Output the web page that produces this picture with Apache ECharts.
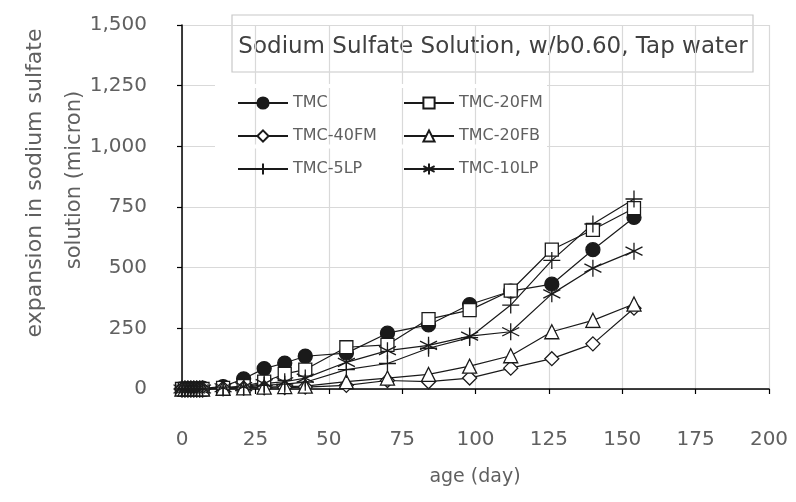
<!DOCTYPE html>
<html><head><meta charset="utf-8">
<script src="https://cdn.jsdelivr.net/npm/echarts@6/dist/echarts.min.js"></script>
<style>html,body{margin:0;padding:0;background:#fff}#c{width:796px;height:502px}</style>
</head><body><div id="c"></div>
<script>
const days = [0,1,2,3,4,5,6,7,14,21,28,35,42,56,70,84,98,112,126,140,154];
const tmc     = [0,0,0,0,0,0,0,3,10,42,84,107,135,148,230,264,348,403,432,574,707];
const tmc20fm = [0,0,0,0,0,0,0,0,5,12,30,62,80,172,182,288,325,405,574,656,745];
const tmc40fm = [0,0,0,0,0,0,0,0,3,4,5,6,8,15,35,30,45,86,125,186,333];
const tmc20fb = [0,0,0,0,0,0,0,0,3,5,8,10,12,30,45,60,94,137,236,283,350];
const tmc5lp  = [0,0,0,0,0,0,0,0,5,8,15,20,28,80,105,168,212,346,530,680,783];
const tmc10lp = [0,0,0,0,0,0,0,0,5,10,22,30,45,110,158,180,218,236,392,498,568];
const seriesNames = ['TMC','TMC-20FM','TMC-40FM','TMC-20FB','TMC-5LP','TMC-10LP'];
const xTicks = [0,25,50,75,100,125,150,175,200];
const yTicks = [0,250,500,750,1000,1250,1500];
const titleText = 'Sodium Sulfate Solution, w/b0.60, Tap water';
const yName1 = 'expansion in sodium sulfate';
const yName2 = 'solution (micron)';
const xName = 'age (day)';

const FONT = 'DejaVu Sans';
const LBL = '#606060';
const LINE = '#1a1a1a';
const plus = 'path://M5,0L5,10M0,5L10,5';
const star = 'path://M5,0L5,10M0.67,2.5L9.33,7.5M0.67,7.5L9.33,2.5';

function pairs(vals){ return days.map((d,i)=>[d, vals[i]]); }
function mk(name, vals, symbol, size, fill){
  return {
    name, type:'line', data: pairs(vals), symbol, symbolSize:size,
    lineStyle:{color:LINE, width:1.2},
    itemStyle:{color:fill, borderColor:LINE, borderWidth:1.3},
    emphasis:{disabled:true}, animation:false, z:3
  };
}
const chart = echarts.init(document.getElementById('c'));
const legendCommon = {
  orient:'vertical', itemWidth:50, itemHeight:14, itemGap:17,
  textStyle:{fontFamily:FONT, fontSize:16, color:LBL},
  selectedMode:false, z:6
};
chart.setOption({
  backgroundColor:'#fff',
  animation:false,
  grid:{left:182, right:27, top:25, bottom:113, containLabel:false},
  xAxis:{type:'value', min:xTicks[0], max:xTicks[xTicks.length-1], interval:25,
    axisLine:{show:true, onZero:false, lineStyle:{color:'#000', width:1.5}},
    axisTick:{show:true, inside:false, length:5, lineStyle:{color:'#000', width:1.2}},
    axisLabel:{fontFamily:FONT, fontSize:20, color:LBL, margin:41},
    splitLine:{show:true, lineStyle:{color:'#d9d9d9', width:1.2}}},
  yAxis:{type:'value', min:yTicks[0], max:yTicks[yTicks.length-1], interval:250,
    axisLine:{show:true, onZero:false, lineStyle:{color:'#000', width:1.5}},
    axisTick:{show:true, inside:false, length:5, lineStyle:{color:'#000', width:1.2}},
    axisLabel:{fontFamily:FONT, fontSize:20, color:LBL, margin:35,
      formatter:v=>v.toLocaleString('en-US')},
    splitLine:{show:true, lineStyle:{color:'#d9d9d9', width:1.2}}},
  legend:[
    Object.assign({left:232, top:90, data:[seriesNames[0],seriesNames[2],seriesNames[4]]}, legendCommon),
    Object.assign({left:398, top:90, data:[seriesNames[1],seriesNames[3],seriesNames[5]]}, legendCommon)
  ],
  graphic:[
    {type:'rect', z:1, shape:{x:215, y:84, width:332, height:4}, style:{fill:'#fff'}},
    {type:'rect', z:1, shape:{x:215, y:144.5, width:332, height:4}, style:{fill:'#fff'}},
    {type:'group', z:10, children:[
      {type:'rect', shape:{x:232, y:15, width:521, height:57},
        style:{fill:'#fff', stroke:'#c8c8c8', lineWidth:1.2}},
      {type:'text', x:493, y:47, style:{text:titleText, fontFamily:FONT, fontSize:23, fill:'#404040',
        textAlign:'center', textVerticalAlign:'middle'}}
    ]},
    {type:'text', x:35, y:183, rotation:Math.PI/2, style:{text:yName1, fontFamily:FONT, fontSize:22, fill:LBL,
      textAlign:'center', textVerticalAlign:'middle'}},
    {type:'text', x:75, y:180, rotation:Math.PI/2, style:{text:yName2, fontFamily:FONT, fontSize:21, fill:LBL,
      textAlign:'center', textVerticalAlign:'middle'}},
    {type:'text', x:475, y:477, style:{text:xName, fontFamily:FONT, fontSize:19, fill:LBL,
      textAlign:'center', textVerticalAlign:'middle'}}
  ],
  series:[
    mk(seriesNames[0], tmc, 'circle', 14, LINE),
    mk(seriesNames[1], tmc20fm, 'rect', 13, '#fff'),
    mk(seriesNames[2], tmc40fm, 'diamond', 14, '#fff'),
    mk(seriesNames[3], tmc20fb, 'triangle', 14, '#fff'),
    mk(seriesNames[4], tmc5lp, plus, 17, LINE),
    mk(seriesNames[5], tmc10lp, star, 17, LINE)
  ]
});
</script></body></html>
